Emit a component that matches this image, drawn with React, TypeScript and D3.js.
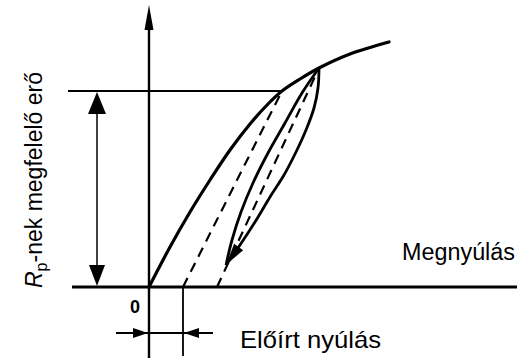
import React from "react";
import * as d3 from "d3";

// Stress–strain sketch: loading curve, an unload/reload loop and the offset line
// that defines the proof stress R_p. Units: strain (x) and force (y), arbitrary.

const loadingCurve: [number, number][] = [
  [0, 0], [1.05, 2.0], [2.05, 3.75], [3.05, 5.35], [4.05, 6.85], [5.05, 8.15],
  [5.95, 9.15], [6.65, 9.8], [7.55, 10.4], [8.5, 10.95], [10.05, 11.65], [12.0, 12.25],
];

const reloadBranch: [number, number][] = [
  [3.85, 1.1], [4.15, 2.35], [4.6, 3.75], [5.2, 5.2], [5.95, 6.7],
  [6.8, 8.2], [7.65, 9.7], [8.5, 10.95],
];

const unloadBranch: [number, number][] = [
  [8.5, 10.95], [8.45, 9.95], [8.25, 8.95], [7.85, 7.85], [7.35, 6.75],
  [6.75, 5.6], [6.05, 4.5], [5.3, 3.25], [4.55, 2.1], [3.85, 1.1],
];

// Offset line through the proof point, and the elastic return from the loop peak
const offsetLine: [number, number][] = [[1.7, 0], [6.65, 9.8]];
const elasticLine: [number, number][] = [[3.4, 0], [8.5, 10.95]];

const proofForce = 9.8;
const prescribedStrain = 1.7;

const yAxisLabel = { main: "R", sub: "p", rest: "-nek megfelelő erő" };
const xAxisLabel = "Megnyúlás";
const offsetLabel = "Előírt nyúlás";
const originLabel = "0";

const W = 517;
const H = 361;
const FONT = "'Liberation Sans', Arial, Helvetica, sans-serif";

const x = d3.scaleLinear().domain([0, 18.4]).range([149, 517]);
const y = d3.scaleLinear().domain([0, 14.1]).range([287, 5]);

const line = d3
  .line<[number, number]>()
  .x((d) => x(d[0]))
  .y((d) => y(d[1]));

const smoothLine = line.curve(d3.curveCatmullRom.alpha(0.5));

// Filled triangular arrowhead with its tip at (tx, ty), pointing along (dx, dy)
function arrowHead(tx: number, ty: number, dx: number, dy: number, len: number, half: number) {
  const l = Math.hypot(dx, dy);
  const ux = dx / l;
  const uy = dy / l;
  const bx = tx - ux * len;
  const by = ty - uy * len;
  const px = -uy * half;
  const py = ux * half;
  return `M${tx},${ty}L${bx + px},${by + py}L${bx - px},${by - py}Z`;
}

export default function App() {
  const x0 = x(0);
  const y0 = y(0);
  const yP = y(proofForce);
  const xPre = x(prescribedStrain);
  const proofX = x(offsetLine[1][0]);
  const dimX = 97;
  const measY = 333;

  const tip = unloadBranch[unloadBranch.length - 1];
  const beforeTip = unloadBranch[unloadBranch.length - 2];

  return (
    <svg width={W} height={H} style={{ display: "block", position: "absolute", left: 0, top: 0, background: "#fff" }}>
      <rect width={W} height={H} fill="#fff" />

      {/* axes */}
      <line x1={72} x2={W} y1={y0} y2={y0} stroke="#000" strokeWidth={3} />
      <line x1={x0} x2={x0} y1={358} y2={y(13.2)} stroke="#000" strokeWidth={2.4} />
      <path d={arrowHead(x0, y(14.1), 0, -1, 25, 4.5)} fill="#000" />

      {/* proof force level and its dimension arrow */}
      <line x1={68} x2={proofX} y1={yP} y2={yP} stroke="#000" strokeWidth={1.8} />
      <line x1={dimX} x2={dimX} y1={yP + 18} y2={y0 - 18} stroke="#000" strokeWidth={1.5} />
      <path d={arrowHead(dimX, yP + 1, 0, -1, 22, 9)} fill="#000" />
      <path d={arrowHead(dimX, y0 - 1, 0, 1, 21, 8)} fill="#000" />

      {/* dashed offset and elastic lines */}
      <path d={line(offsetLine) ?? ""} fill="none" stroke="#000" strokeWidth={2.2} strokeDasharray="10 7" />
      <path d={line(elasticLine) ?? ""} fill="none" stroke="#000" strokeWidth={2.2} strokeDasharray="10 7" />

      {/* loading curve and the unload/reload loop */}
      <path d={smoothLine(loadingCurve) ?? ""} fill="none" stroke="#000" strokeWidth={3.2} strokeLinecap="round" />
      <path d={smoothLine(reloadBranch) ?? ""} fill="none" stroke="#000" strokeWidth={2.8} />
      <path d={smoothLine(unloadBranch) ?? ""} fill="none" stroke="#000" strokeWidth={2.8} />
      <path
        d={arrowHead(x(tip[0]), y(tip[1]), x(tip[0]) - x(beforeTip[0]), y(tip[1]) - y(beforeTip[1]), 22, 5.5)}
        fill="#000"
      />

      {/* prescribed strain dimension */}
      <line x1={xPre} x2={xPre} y1={y0} y2={356} stroke="#000" strokeWidth={1.8} />
      <line x1={116} x2={213} y1={measY} y2={measY} stroke="#000" strokeWidth={1.8} />
      <path d={arrowHead(x0 - 1, measY, 1, 0, 15, 5)} fill="#000" />
      <path d={arrowHead(xPre + 1, measY, -1, 0, 15, 5)} fill="#000" />

      {/* labels */}
      <text x={135} y={313} fontFamily={FONT} fontSize={18} fontWeight="bold" textAnchor="middle">
        {originLabel}
      </text>
      <text x={402} y={260} fontFamily={FONT} fontSize={23} textLength={113} lengthAdjust="spacingAndGlyphs">
        {xAxisLabel}
      </text>
      <text x={240} y={348} fontFamily={FONT} fontSize={24} textLength={141} lengthAdjust="spacingAndGlyphs">
        {offsetLabel}
      </text>
      <text
        transform="translate(42,180) rotate(-90)"
        fontFamily={FONT}
        fontSize={23}
        textAnchor="middle"
      >
        <tspan fontStyle="italic">{yAxisLabel.main}</tspan>
        <tspan fontSize={16} dy={5}>{yAxisLabel.sub}</tspan>
        <tspan dy={-5}>{yAxisLabel.rest}</tspan>
      </text>
    </svg>
  );
}
